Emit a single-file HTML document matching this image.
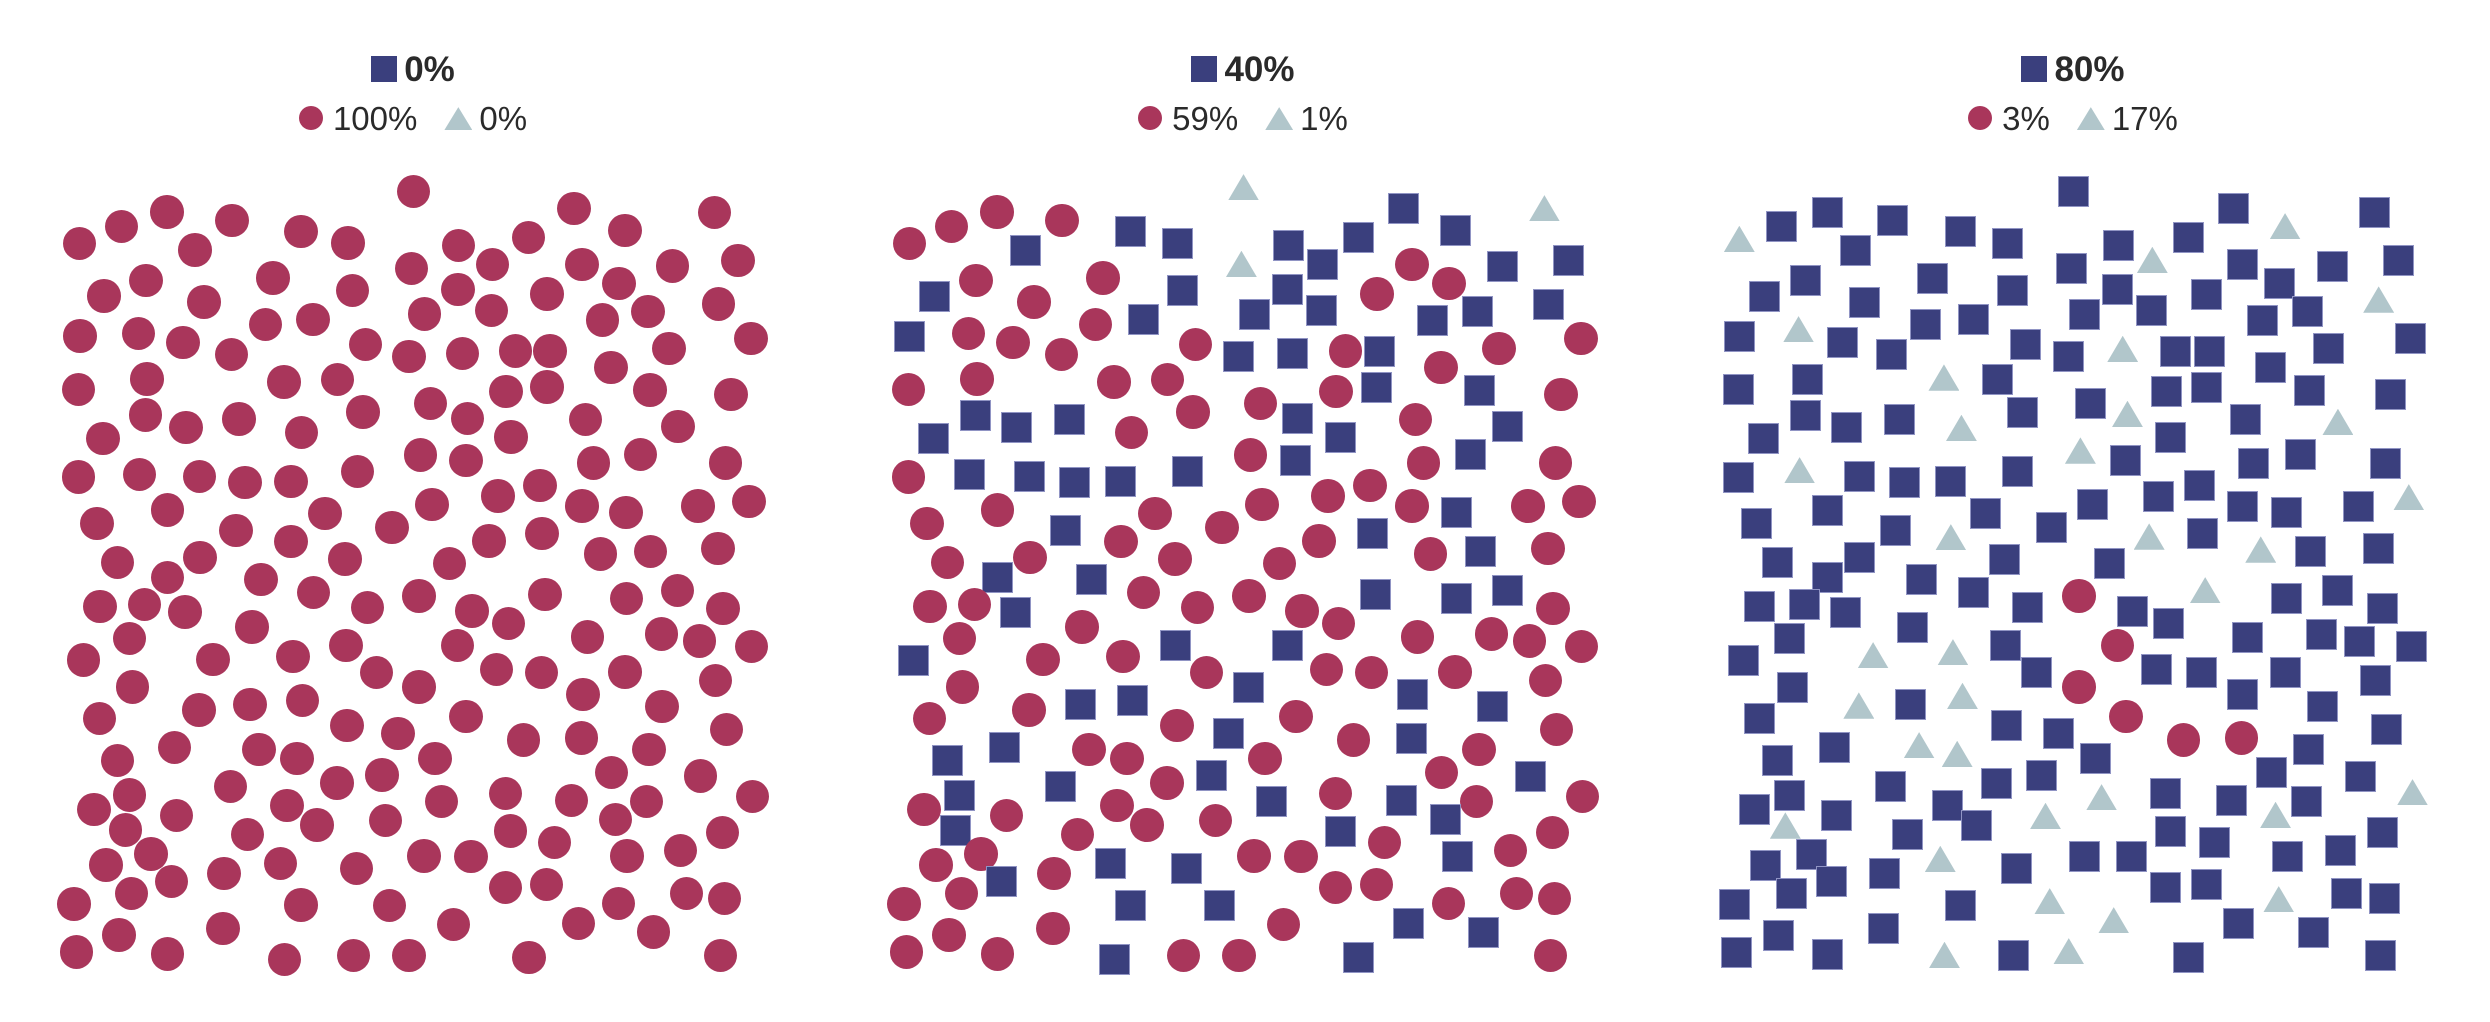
<!DOCTYPE html>
<html><head><meta charset="utf-8">
<style>
html,body{margin:0;padding:0;background:#fff;}
body{width:2490px;height:1022px;position:relative;overflow:hidden;font-family:"Liberation Sans",sans-serif;color:#2a2a2a;}
.p{position:absolute;top:0;width:830px;height:1022px;}
.m{position:absolute;display:block;left:calc(var(--x) * 1px / 1.891);top:calc(var(--y) * 1px / 3);}
.c{width:33.5px;height:33.5px;margin:-16.75px 0 0 -16.75px;border-radius:50%;background:#a9365b;}
.s{width:31px;height:31px;margin:-15.5px 0 0 -15.5px;background:#3a3f7d;border:1px solid #9094c4;box-sizing:border-box;}
.t{width:31px;height:26.4px;margin:-17.6px 0 0 -15.5px;background:#b1c6cb;clip-path:polygon(50% 0,100% 100%,0 100%);}
.h1{position:absolute;left:0;width:826px;top:52.4px;display:flex;justify-content:center;align-items:flex-start;font-weight:bold;font-size:35px;line-height:35px;}
.h1 .sq{width:26px;height:26px;background:#3a3f7d;margin-top:3.6px;margin-right:7px;}
.h2{position:absolute;left:0;width:826px;top:102.1px;display:flex;justify-content:center;align-items:flex-start;font-size:33px;line-height:33px;}
.h2 .ci{width:24px;height:24px;border-radius:50%;background:#a9365b;margin-top:4px;margin-right:10px;}
.h2 .tr{width:28px;height:23px;background:#b1c6cb;clip-path:polygon(50% 0,100% 100%,0 100%);margin-top:5px;margin-left:27px;margin-right:7px;}
</style></head>
<body>
<div class="p" style="left:0">
<div class="h1"><span class="sq"></span><span>0%</span></div>
<div class="h2"><span class="ci"></span><span>100%</span><span class="tr"></span><span>0%</span></div>
<i class="m c" style="--x:782;--y:575"></i><i class="m c" style="--x:150;--y:730"></i><i class="m c" style="--x:230;--y:679"></i><i class="m c" style="--x:316;--y:636"></i><i class="m c" style="--x:369;--y:750"></i><i class="m c" style="--x:439;--y:662"></i><i class="m c" style="--x:569;--y:695"></i><i class="m c" style="--x:658;--y:729"></i><i class="m c" style="--x:867;--y:736"></i><i class="m c" style="--x:999;--y:712"></i>
<i class="m c" style="--x:1085;--y:625"></i><i class="m c" style="--x:1182;--y:692"></i><i class="m c" style="--x:1351;--y:638"></i><i class="m c" style="--x:778;--y:805"></i><i class="m c" style="--x:931;--y:793"></i><i class="m c" style="--x:1101;--y:793"></i><i class="m c" style="--x:1272;--y:798"></i><i class="m c" style="--x:1396;--y:782"></i><i class="m c" style="--x:197;--y:888"></i><i class="m c" style="--x:276;--y:841"></i>
<i class="m c" style="--x:386;--y:906"></i><i class="m c" style="--x:516;--y:834"></i><i class="m c" style="--x:667;--y:872"></i><i class="m c" style="--x:866;--y:869"></i><i class="m c" style="--x:1034;--y:882"></i><i class="m c" style="--x:1171;--y:851"></i><i class="m c" style="--x:803;--y:942"></i><i class="m c" style="--x:929;--y:931"></i><i class="m c" style="--x:1139;--y:960"></i><i class="m c" style="--x:1225;--y:935"></i>
<i class="m c" style="--x:1359;--y:912"></i><i class="m c" style="--x:151;--y:1008"></i><i class="m c" style="--x:262;--y:1001"></i><i class="m c" style="--x:346;--y:1027"></i><i class="m c" style="--x:438;--y:1063"></i><i class="m c" style="--x:502;--y:973"></i><i class="m c" style="--x:592;--y:958"></i><i class="m c" style="--x:691;--y:1034"></i><i class="m c" style="--x:773;--y:1070"></i><i class="m c" style="--x:875;--y:1060"></i>
<i class="m c" style="--x:975;--y:1053"></i><i class="m c" style="--x:1040;--y:1053"></i><i class="m c" style="--x:1265;--y:1046"></i><i class="m c" style="--x:1420;--y:1015"></i><i class="m c" style="--x:1155;--y:1103"></i><i class="m c" style="--x:148;--y:1169"></i><i class="m c" style="--x:278;--y:1137"></i><i class="m c" style="--x:537;--y:1146"></i><i class="m c" style="--x:638;--y:1138"></i><i class="m c" style="--x:957;--y:1174"></i>
<i class="m c" style="--x:1034;--y:1161"></i><i class="m c" style="--x:1229;--y:1170"></i><i class="m c" style="--x:1382;--y:1184"></i><i class="m c" style="--x:814;--y:1210"></i><i class="m c" style="--x:275;--y:1245"></i><i class="m c" style="--x:352;--y:1282"></i><i class="m c" style="--x:452;--y:1257"></i><i class="m c" style="--x:686;--y:1236"></i><i class="m c" style="--x:884;--y:1255"></i><i class="m c" style="--x:966;--y:1311"></i>
<i class="m c" style="--x:1107;--y:1258"></i><i class="m c" style="--x:1282;--y:1279"></i><i class="m c" style="--x:195;--y:1316"></i><i class="m c" style="--x:570;--y:1297"></i><i class="m c" style="--x:795;--y:1365"></i><i class="m c" style="--x:881;--y:1381"></i><i class="m c" style="--x:1122;--y:1389"></i><i class="m c" style="--x:1211;--y:1364"></i><i class="m c" style="--x:1372;--y:1389"></i><i class="m c" style="--x:148;--y:1431"></i>
<i class="m c" style="--x:264;--y:1424"></i><i class="m c" style="--x:377;--y:1430"></i><i class="m c" style="--x:463;--y:1448"></i><i class="m c" style="--x:550;--y:1445"></i><i class="m c" style="--x:676;--y:1414"></i><i class="m c" style="--x:942;--y:1488"></i><i class="m c" style="--x:1021;--y:1456"></i><i class="m c" style="--x:183;--y:1571"></i><i class="m c" style="--x:317;--y:1530"></i><i class="m c" style="--x:615;--y:1540"></i>
<i class="m c" style="--x:817;--y:1513"></i><i class="m c" style="--x:1101;--y:1518"></i><i class="m c" style="--x:1184;--y:1538"></i><i class="m c" style="--x:1320;--y:1518"></i><i class="m c" style="--x:1416;--y:1505"></i><i class="m c" style="--x:446;--y:1591"></i><i class="m c" style="--x:550;--y:1625"></i><i class="m c" style="--x:741;--y:1583"></i><i class="m c" style="--x:925;--y:1623"></i><i class="m c" style="--x:1025;--y:1600"></i>
<i class="m c" style="--x:1136;--y:1662"></i><i class="m c" style="--x:1230;--y:1654"></i><i class="m c" style="--x:1358;--y:1645"></i><i class="m c" style="--x:222;--y:1688"></i><i class="m c" style="--x:378;--y:1672"></i><i class="m c" style="--x:652;--y:1677"></i><i class="m c" style="--x:850;--y:1691"></i><i class="m c" style="--x:317;--y:1732"></i><i class="m c" style="--x:494;--y:1738"></i><i class="m c" style="--x:593;--y:1778"></i>
<i class="m c" style="--x:792;--y:1788"></i><i class="m c" style="--x:1031;--y:1784"></i><i class="m c" style="--x:1185;--y:1796"></i><i class="m c" style="--x:1281;--y:1772"></i><i class="m c" style="--x:1367;--y:1826"></i><i class="m c" style="--x:189;--y:1819"></i><i class="m c" style="--x:273;--y:1814"></i><i class="m c" style="--x:350;--y:1836"></i><i class="m c" style="--x:695;--y:1823"></i><i class="m c" style="--x:893;--y:1833"></i>
<i class="m c" style="--x:962;--y:1871"></i><i class="m c" style="--x:1111;--y:1911"></i><i class="m c" style="--x:1251;--y:1902"></i><i class="m c" style="--x:1323;--y:1923"></i><i class="m c" style="--x:1421;--y:1940"></i><i class="m c" style="--x:245;--y:1916"></i><i class="m c" style="--x:477;--y:1881"></i><i class="m c" style="--x:654;--y:1936"></i><i class="m c" style="--x:865;--y:1936"></i><i class="m c" style="--x:158;--y:1980"></i>
<i class="m c" style="--x:403;--y:1979"></i><i class="m c" style="--x:554;--y:1970"></i><i class="m c" style="--x:712;--y:2017"></i><i class="m c" style="--x:792;--y:2061"></i><i class="m c" style="--x:939;--y:2008"></i><i class="m c" style="--x:1024;--y:2018"></i><i class="m c" style="--x:1182;--y:2016"></i><i class="m c" style="--x:1353;--y:2042"></i><i class="m c" style="--x:1102;--y:2083"></i><i class="m c" style="--x:251;--y:2061"></i>
<i class="m c" style="--x:188;--y:2156"></i><i class="m c" style="--x:376;--y:2130"></i><i class="m c" style="--x:473;--y:2113"></i><i class="m c" style="--x:572;--y:2101"></i><i class="m c" style="--x:656;--y:2177"></i><i class="m c" style="--x:753;--y:2201"></i><i class="m c" style="--x:881;--y:2150"></i><i class="m c" style="--x:990;--y:2220"></i><i class="m c" style="--x:1100;--y:2214"></i><i class="m c" style="--x:1252;--y:2119"></i>
<i class="m c" style="--x:1374;--y:2188"></i><i class="m c" style="--x:222;--y:2282"></i><i class="m c" style="--x:330;--y:2243"></i><i class="m c" style="--x:490;--y:2249"></i><i class="m c" style="--x:562;--y:2275"></i><i class="m c" style="--x:823;--y:2275"></i><i class="m c" style="--x:1227;--y:2249"></i><i class="m c" style="--x:1156;--y:2317"></i><i class="m c" style="--x:1325;--y:2328"></i><i class="m c" style="--x:245;--y:2385"></i>
<i class="m c" style="--x:178;--y:2429"></i><i class="m c" style="--x:334;--y:2446"></i><i class="m c" style="--x:436;--y:2360"></i><i class="m c" style="--x:543;--y:2417"></i><i class="m c" style="--x:637;--y:2349"></i><i class="m c" style="--x:722;--y:2325"></i><i class="m c" style="--x:835;--y:2405"></i><i class="m c" style="--x:956;--y:2380"></i><i class="m c" style="--x:1081;--y:2401"></i><i class="m c" style="--x:1223;--y:2405"></i>
<i class="m c" style="--x:1164;--y:2458"></i><i class="m c" style="--x:1423;--y:2390"></i><i class="m c" style="--x:237;--y:2490"></i><i class="m c" style="--x:468;--y:2503"></i><i class="m c" style="--x:599;--y:2475"></i><i class="m c" style="--x:729;--y:2461"></i><i class="m c" style="--x:965;--y:2493"></i><i class="m c" style="--x:1049;--y:2528"></i><i class="m c" style="--x:1366;--y:2498"></i><i class="m c" style="--x:286;--y:2562"></i>
<i class="m c" style="--x:200;--y:2595"></i><i class="m c" style="--x:324;--y:2645"></i><i class="m c" style="--x:424;--y:2621"></i><i class="m c" style="--x:530;--y:2590"></i><i class="m c" style="--x:674;--y:2606"></i><i class="m c" style="--x:802;--y:2568"></i><i class="m c" style="--x:891;--y:2570"></i><i class="m c" style="--x:1186;--y:2568"></i><i class="m c" style="--x:1287;--y:2552"></i><i class="m c" style="--x:249;--y:2681"></i>
<i class="m c" style="--x:140;--y:2712"></i><i class="m c" style="--x:569;--y:2715"></i><i class="m c" style="--x:737;--y:2717"></i><i class="m c" style="--x:956;--y:2662"></i><i class="m c" style="--x:1033;--y:2653"></i><i class="m c" style="--x:1170;--y:2711"></i><i class="m c" style="--x:1298;--y:2681"></i><i class="m c" style="--x:1370;--y:2696"></i><i class="m c" style="--x:225;--y:2805"></i><i class="m c" style="--x:422;--y:2785"></i>
<i class="m c" style="--x:858;--y:2774"></i><i class="m c" style="--x:1094;--y:2770"></i><i class="m c" style="--x:1236;--y:2796"></i><i class="m c" style="--x:145;--y:2856"></i><i class="m c" style="--x:317;--y:2862"></i><i class="m c" style="--x:538;--y:2878"></i><i class="m c" style="--x:668;--y:2866"></i><i class="m c" style="--x:773;--y:2867"></i><i class="m c" style="--x:1000;--y:2873"></i><i class="m c" style="--x:1362;--y:2866"></i>
</div>

<div class="p" style="left:830px">
<div class="h1"><span class="sq"></span><span>40%</span></div>
<div class="h2"><span class="ci"></span><span>59%</span><span class="tr"></span><span>1%</span></div>
<i class="m t" style="--x:782;--y:575"></i><i class="m c" style="--x:150;--y:730"></i><i class="m c" style="--x:230;--y:679"></i><i class="m c" style="--x:316;--y:636"></i><i class="m s" style="--x:369;--y:750"></i><i class="m c" style="--x:439;--y:662"></i><i class="m s" style="--x:569;--y:695"></i><i class="m s" style="--x:658;--y:729"></i><i class="m s" style="--x:867;--y:736"></i><i class="m s" style="--x:999;--y:712"></i>
<i class="m s" style="--x:1085;--y:625"></i><i class="m s" style="--x:1182;--y:692"></i><i class="m t" style="--x:1351;--y:638"></i><i class="m t" style="--x:778;--y:805"></i><i class="m s" style="--x:931;--y:793"></i><i class="m c" style="--x:1101;--y:793"></i><i class="m s" style="--x:1272;--y:798"></i><i class="m s" style="--x:1396;--y:782"></i><i class="m s" style="--x:197;--y:888"></i><i class="m c" style="--x:276;--y:841"></i>
<i class="m c" style="--x:386;--y:906"></i><i class="m c" style="--x:516;--y:834"></i><i class="m s" style="--x:667;--y:872"></i><i class="m s" style="--x:866;--y:869"></i><i class="m c" style="--x:1034;--y:882"></i><i class="m c" style="--x:1171;--y:851"></i><i class="m s" style="--x:803;--y:942"></i><i class="m s" style="--x:929;--y:931"></i><i class="m s" style="--x:1139;--y:960"></i><i class="m s" style="--x:1225;--y:935"></i>
<i class="m s" style="--x:1359;--y:912"></i><i class="m s" style="--x:151;--y:1008"></i><i class="m c" style="--x:262;--y:1001"></i><i class="m c" style="--x:346;--y:1027"></i><i class="m c" style="--x:438;--y:1063"></i><i class="m c" style="--x:502;--y:973"></i><i class="m s" style="--x:592;--y:958"></i><i class="m c" style="--x:691;--y:1034"></i><i class="m s" style="--x:773;--y:1070"></i><i class="m s" style="--x:875;--y:1060"></i>
<i class="m c" style="--x:975;--y:1053"></i><i class="m s" style="--x:1040;--y:1053"></i><i class="m c" style="--x:1265;--y:1046"></i><i class="m c" style="--x:1420;--y:1015"></i><i class="m c" style="--x:1155;--y:1103"></i><i class="m c" style="--x:148;--y:1169"></i><i class="m c" style="--x:278;--y:1137"></i><i class="m c" style="--x:537;--y:1146"></i><i class="m c" style="--x:638;--y:1138"></i><i class="m c" style="--x:957;--y:1174"></i>
<i class="m s" style="--x:1034;--y:1161"></i><i class="m s" style="--x:1229;--y:1170"></i><i class="m c" style="--x:1382;--y:1184"></i><i class="m c" style="--x:814;--y:1210"></i><i class="m s" style="--x:275;--y:1245"></i><i class="m s" style="--x:352;--y:1282"></i><i class="m s" style="--x:452;--y:1257"></i><i class="m c" style="--x:686;--y:1236"></i><i class="m s" style="--x:884;--y:1255"></i><i class="m s" style="--x:966;--y:1311"></i>
<i class="m c" style="--x:1107;--y:1258"></i><i class="m s" style="--x:1282;--y:1279"></i><i class="m s" style="--x:195;--y:1316"></i><i class="m c" style="--x:570;--y:1297"></i><i class="m c" style="--x:795;--y:1365"></i><i class="m s" style="--x:881;--y:1381"></i><i class="m c" style="--x:1122;--y:1389"></i><i class="m s" style="--x:1211;--y:1364"></i><i class="m c" style="--x:1372;--y:1389"></i><i class="m c" style="--x:148;--y:1431"></i>
<i class="m s" style="--x:264;--y:1424"></i><i class="m s" style="--x:377;--y:1430"></i><i class="m s" style="--x:463;--y:1448"></i><i class="m s" style="--x:550;--y:1445"></i><i class="m s" style="--x:676;--y:1414"></i><i class="m c" style="--x:942;--y:1488"></i><i class="m c" style="--x:1021;--y:1456"></i><i class="m c" style="--x:183;--y:1571"></i><i class="m c" style="--x:317;--y:1530"></i><i class="m c" style="--x:615;--y:1540"></i>
<i class="m c" style="--x:817;--y:1513"></i><i class="m c" style="--x:1101;--y:1518"></i><i class="m s" style="--x:1184;--y:1538"></i><i class="m c" style="--x:1320;--y:1518"></i><i class="m c" style="--x:1416;--y:1505"></i><i class="m s" style="--x:446;--y:1591"></i><i class="m c" style="--x:550;--y:1625"></i><i class="m c" style="--x:741;--y:1583"></i><i class="m c" style="--x:925;--y:1623"></i><i class="m s" style="--x:1025;--y:1600"></i>
<i class="m c" style="--x:1136;--y:1662"></i><i class="m s" style="--x:1230;--y:1654"></i><i class="m c" style="--x:1358;--y:1645"></i><i class="m c" style="--x:222;--y:1688"></i><i class="m c" style="--x:378;--y:1672"></i><i class="m c" style="--x:652;--y:1677"></i><i class="m c" style="--x:850;--y:1691"></i><i class="m s" style="--x:317;--y:1732"></i><i class="m s" style="--x:494;--y:1738"></i><i class="m c" style="--x:593;--y:1778"></i>
<i class="m c" style="--x:792;--y:1788"></i><i class="m s" style="--x:1031;--y:1784"></i><i class="m s" style="--x:1185;--y:1796"></i><i class="m s" style="--x:1281;--y:1772"></i><i class="m c" style="--x:1367;--y:1826"></i><i class="m c" style="--x:189;--y:1819"></i><i class="m c" style="--x:273;--y:1814"></i><i class="m s" style="--x:350;--y:1836"></i><i class="m c" style="--x:695;--y:1823"></i><i class="m c" style="--x:893;--y:1833"></i>
<i class="m c" style="--x:962;--y:1871"></i><i class="m c" style="--x:1111;--y:1911"></i><i class="m c" style="--x:1251;--y:1902"></i><i class="m c" style="--x:1323;--y:1923"></i><i class="m c" style="--x:1421;--y:1940"></i><i class="m c" style="--x:245;--y:1916"></i><i class="m c" style="--x:477;--y:1881"></i><i class="m s" style="--x:654;--y:1936"></i><i class="m s" style="--x:865;--y:1936"></i><i class="m s" style="--x:158;--y:1980"></i>
<i class="m c" style="--x:403;--y:1979"></i><i class="m c" style="--x:554;--y:1970"></i><i class="m c" style="--x:712;--y:2017"></i><i class="m s" style="--x:792;--y:2061"></i><i class="m c" style="--x:939;--y:2008"></i><i class="m c" style="--x:1024;--y:2018"></i><i class="m c" style="--x:1182;--y:2016"></i><i class="m c" style="--x:1353;--y:2042"></i><i class="m s" style="--x:1102;--y:2083"></i><i class="m c" style="--x:251;--y:2061"></i>
<i class="m c" style="--x:188;--y:2156"></i><i class="m c" style="--x:376;--y:2130"></i><i class="m s" style="--x:473;--y:2113"></i><i class="m s" style="--x:572;--y:2101"></i><i class="m c" style="--x:656;--y:2177"></i><i class="m s" style="--x:753;--y:2201"></i><i class="m c" style="--x:881;--y:2150"></i><i class="m c" style="--x:990;--y:2220"></i><i class="m s" style="--x:1100;--y:2214"></i><i class="m s" style="--x:1252;--y:2119"></i>
<i class="m c" style="--x:1374;--y:2188"></i><i class="m s" style="--x:222;--y:2282"></i><i class="m s" style="--x:330;--y:2243"></i><i class="m c" style="--x:490;--y:2249"></i><i class="m c" style="--x:562;--y:2275"></i><i class="m c" style="--x:823;--y:2275"></i><i class="m c" style="--x:1227;--y:2249"></i><i class="m c" style="--x:1156;--y:2317"></i><i class="m s" style="--x:1325;--y:2328"></i><i class="m s" style="--x:245;--y:2385"></i>
<i class="m c" style="--x:178;--y:2429"></i><i class="m c" style="--x:334;--y:2446"></i><i class="m s" style="--x:436;--y:2360"></i><i class="m c" style="--x:543;--y:2417"></i><i class="m c" style="--x:637;--y:2349"></i><i class="m s" style="--x:722;--y:2325"></i><i class="m s" style="--x:835;--y:2405"></i><i class="m c" style="--x:956;--y:2380"></i><i class="m s" style="--x:1081;--y:2401"></i><i class="m c" style="--x:1223;--y:2405"></i>
<i class="m s" style="--x:1164;--y:2458"></i><i class="m c" style="--x:1423;--y:2390"></i><i class="m s" style="--x:237;--y:2490"></i><i class="m c" style="--x:468;--y:2503"></i><i class="m c" style="--x:599;--y:2475"></i><i class="m c" style="--x:729;--y:2461"></i><i class="m s" style="--x:965;--y:2493"></i><i class="m c" style="--x:1049;--y:2528"></i><i class="m c" style="--x:1366;--y:2498"></i><i class="m c" style="--x:286;--y:2562"></i>
<i class="m c" style="--x:200;--y:2595"></i><i class="m s" style="--x:324;--y:2645"></i><i class="m c" style="--x:424;--y:2621"></i><i class="m s" style="--x:530;--y:2590"></i><i class="m s" style="--x:674;--y:2606"></i><i class="m c" style="--x:802;--y:2568"></i><i class="m c" style="--x:891;--y:2570"></i><i class="m s" style="--x:1186;--y:2568"></i><i class="m c" style="--x:1287;--y:2552"></i><i class="m c" style="--x:249;--y:2681"></i>
<i class="m c" style="--x:140;--y:2712"></i><i class="m s" style="--x:569;--y:2715"></i><i class="m s" style="--x:737;--y:2717"></i><i class="m c" style="--x:956;--y:2662"></i><i class="m c" style="--x:1033;--y:2653"></i><i class="m c" style="--x:1170;--y:2711"></i><i class="m c" style="--x:1298;--y:2681"></i><i class="m c" style="--x:1370;--y:2696"></i><i class="m c" style="--x:225;--y:2805"></i><i class="m c" style="--x:422;--y:2785"></i>
<i class="m c" style="--x:858;--y:2774"></i><i class="m s" style="--x:1094;--y:2770"></i><i class="m s" style="--x:1236;--y:2796"></i><i class="m c" style="--x:145;--y:2856"></i><i class="m c" style="--x:317;--y:2862"></i><i class="m s" style="--x:538;--y:2878"></i><i class="m c" style="--x:668;--y:2866"></i><i class="m c" style="--x:773;--y:2867"></i><i class="m s" style="--x:1000;--y:2873"></i><i class="m c" style="--x:1362;--y:2866"></i>
</div>

<div class="p" style="left:1660px">
<div class="h1"><span class="sq"></span><span>80%</span></div>
<div class="h2"><span class="ci"></span><span>3%</span><span class="tr"></span><span>17%</span></div>
<i class="m s" style="--x:782;--y:575"></i><i class="m t" style="--x:150;--y:730"></i><i class="m s" style="--x:230;--y:679"></i><i class="m s" style="--x:316;--y:636"></i><i class="m s" style="--x:369;--y:750"></i><i class="m s" style="--x:439;--y:662"></i><i class="m s" style="--x:569;--y:695"></i><i class="m s" style="--x:658;--y:729"></i><i class="m s" style="--x:867;--y:736"></i><i class="m s" style="--x:999;--y:712"></i>
<i class="m s" style="--x:1085;--y:625"></i><i class="m t" style="--x:1182;--y:692"></i><i class="m s" style="--x:1351;--y:638"></i><i class="m s" style="--x:778;--y:805"></i><i class="m t" style="--x:931;--y:793"></i><i class="m s" style="--x:1101;--y:793"></i><i class="m s" style="--x:1272;--y:798"></i><i class="m s" style="--x:1396;--y:782"></i><i class="m s" style="--x:197;--y:888"></i><i class="m s" style="--x:276;--y:841"></i>
<i class="m s" style="--x:386;--y:906"></i><i class="m s" style="--x:516;--y:834"></i><i class="m s" style="--x:667;--y:872"></i><i class="m s" style="--x:866;--y:869"></i><i class="m s" style="--x:1034;--y:882"></i><i class="m s" style="--x:1171;--y:851"></i><i class="m s" style="--x:803;--y:942"></i><i class="m s" style="--x:929;--y:931"></i><i class="m s" style="--x:1139;--y:960"></i><i class="m s" style="--x:1225;--y:935"></i>
<i class="m t" style="--x:1359;--y:912"></i><i class="m s" style="--x:151;--y:1008"></i><i class="m t" style="--x:262;--y:1001"></i><i class="m s" style="--x:346;--y:1027"></i><i class="m s" style="--x:438;--y:1063"></i><i class="m s" style="--x:502;--y:973"></i><i class="m s" style="--x:592;--y:958"></i><i class="m s" style="--x:691;--y:1034"></i><i class="m s" style="--x:773;--y:1070"></i><i class="m t" style="--x:875;--y:1060"></i>
<i class="m s" style="--x:975;--y:1053"></i><i class="m s" style="--x:1040;--y:1053"></i><i class="m s" style="--x:1265;--y:1046"></i><i class="m s" style="--x:1420;--y:1015"></i><i class="m s" style="--x:1155;--y:1103"></i><i class="m s" style="--x:148;--y:1169"></i><i class="m s" style="--x:278;--y:1137"></i><i class="m t" style="--x:537;--y:1146"></i><i class="m s" style="--x:638;--y:1138"></i><i class="m s" style="--x:957;--y:1174"></i>
<i class="m s" style="--x:1034;--y:1161"></i><i class="m s" style="--x:1229;--y:1170"></i><i class="m s" style="--x:1382;--y:1184"></i><i class="m s" style="--x:814;--y:1210"></i><i class="m s" style="--x:275;--y:1245"></i><i class="m s" style="--x:352;--y:1282"></i><i class="m s" style="--x:452;--y:1257"></i><i class="m s" style="--x:686;--y:1236"></i><i class="m t" style="--x:884;--y:1255"></i><i class="m s" style="--x:966;--y:1311"></i>
<i class="m s" style="--x:1107;--y:1258"></i><i class="m t" style="--x:1282;--y:1279"></i><i class="m s" style="--x:195;--y:1316"></i><i class="m t" style="--x:570;--y:1297"></i><i class="m t" style="--x:795;--y:1365"></i><i class="m s" style="--x:881;--y:1381"></i><i class="m s" style="--x:1122;--y:1389"></i><i class="m s" style="--x:1211;--y:1364"></i><i class="m s" style="--x:1372;--y:1389"></i><i class="m s" style="--x:148;--y:1431"></i>
<i class="m t" style="--x:264;--y:1424"></i><i class="m s" style="--x:377;--y:1430"></i><i class="m s" style="--x:463;--y:1448"></i><i class="m s" style="--x:550;--y:1445"></i><i class="m s" style="--x:676;--y:1414"></i><i class="m s" style="--x:942;--y:1488"></i><i class="m s" style="--x:1021;--y:1456"></i><i class="m s" style="--x:183;--y:1571"></i><i class="m s" style="--x:317;--y:1530"></i><i class="m s" style="--x:615;--y:1540"></i>
<i class="m s" style="--x:817;--y:1513"></i><i class="m s" style="--x:1101;--y:1518"></i><i class="m s" style="--x:1184;--y:1538"></i><i class="m s" style="--x:1320;--y:1518"></i><i class="m t" style="--x:1416;--y:1505"></i><i class="m s" style="--x:446;--y:1591"></i><i class="m t" style="--x:550;--y:1625"></i><i class="m s" style="--x:741;--y:1583"></i><i class="m t" style="--x:925;--y:1623"></i><i class="m s" style="--x:1025;--y:1600"></i>
<i class="m t" style="--x:1136;--y:1662"></i><i class="m s" style="--x:1230;--y:1654"></i><i class="m s" style="--x:1358;--y:1645"></i><i class="m s" style="--x:222;--y:1688"></i><i class="m s" style="--x:378;--y:1672"></i><i class="m s" style="--x:652;--y:1677"></i><i class="m s" style="--x:850;--y:1691"></i><i class="m s" style="--x:317;--y:1732"></i><i class="m s" style="--x:494;--y:1738"></i><i class="m s" style="--x:593;--y:1778"></i>
<i class="m c" style="--x:792;--y:1788"></i><i class="m t" style="--x:1031;--y:1784"></i><i class="m s" style="--x:1185;--y:1796"></i><i class="m s" style="--x:1281;--y:1772"></i><i class="m s" style="--x:1367;--y:1826"></i><i class="m s" style="--x:189;--y:1819"></i><i class="m s" style="--x:273;--y:1814"></i><i class="m s" style="--x:350;--y:1836"></i><i class="m s" style="--x:695;--y:1823"></i><i class="m s" style="--x:893;--y:1833"></i>
<i class="m s" style="--x:962;--y:1871"></i><i class="m s" style="--x:1111;--y:1911"></i><i class="m s" style="--x:1251;--y:1902"></i><i class="m s" style="--x:1323;--y:1923"></i><i class="m s" style="--x:1421;--y:1940"></i><i class="m s" style="--x:245;--y:1916"></i><i class="m s" style="--x:477;--y:1881"></i><i class="m s" style="--x:654;--y:1936"></i><i class="m c" style="--x:865;--y:1936"></i><i class="m s" style="--x:158;--y:1980"></i>
<i class="m t" style="--x:403;--y:1979"></i><i class="m t" style="--x:554;--y:1970"></i><i class="m s" style="--x:712;--y:2017"></i><i class="m c" style="--x:792;--y:2061"></i><i class="m s" style="--x:939;--y:2008"></i><i class="m s" style="--x:1024;--y:2018"></i><i class="m s" style="--x:1182;--y:2016"></i><i class="m s" style="--x:1353;--y:2042"></i><i class="m s" style="--x:1102;--y:2083"></i><i class="m s" style="--x:251;--y:2061"></i>
<i class="m s" style="--x:188;--y:2156"></i><i class="m t" style="--x:376;--y:2130"></i><i class="m s" style="--x:473;--y:2113"></i><i class="m t" style="--x:572;--y:2101"></i><i class="m s" style="--x:656;--y:2177"></i><i class="m s" style="--x:753;--y:2201"></i><i class="m c" style="--x:881;--y:2150"></i><i class="m c" style="--x:990;--y:2220"></i><i class="m c" style="--x:1100;--y:2214"></i><i class="m s" style="--x:1252;--y:2119"></i>
<i class="m s" style="--x:1374;--y:2188"></i><i class="m s" style="--x:222;--y:2282"></i><i class="m s" style="--x:330;--y:2243"></i><i class="m t" style="--x:490;--y:2249"></i><i class="m t" style="--x:562;--y:2275"></i><i class="m s" style="--x:823;--y:2275"></i><i class="m s" style="--x:1227;--y:2249"></i><i class="m s" style="--x:1156;--y:2317"></i><i class="m s" style="--x:1325;--y:2328"></i><i class="m s" style="--x:245;--y:2385"></i>
<i class="m s" style="--x:178;--y:2429"></i><i class="m s" style="--x:334;--y:2446"></i><i class="m s" style="--x:436;--y:2360"></i><i class="m s" style="--x:543;--y:2417"></i><i class="m s" style="--x:637;--y:2349"></i><i class="m s" style="--x:722;--y:2325"></i><i class="m t" style="--x:835;--y:2405"></i><i class="m s" style="--x:956;--y:2380"></i><i class="m s" style="--x:1081;--y:2401"></i><i class="m s" style="--x:1223;--y:2405"></i>
<i class="m t" style="--x:1164;--y:2458"></i><i class="m t" style="--x:1423;--y:2390"></i><i class="m t" style="--x:237;--y:2490"></i><i class="m s" style="--x:468;--y:2503"></i><i class="m s" style="--x:599;--y:2475"></i><i class="m t" style="--x:729;--y:2461"></i><i class="m s" style="--x:965;--y:2493"></i><i class="m s" style="--x:1049;--y:2528"></i><i class="m s" style="--x:1366;--y:2498"></i><i class="m s" style="--x:286;--y:2562"></i>
<i class="m s" style="--x:200;--y:2595"></i><i class="m s" style="--x:324;--y:2645"></i><i class="m s" style="--x:424;--y:2621"></i><i class="m t" style="--x:530;--y:2590"></i><i class="m s" style="--x:674;--y:2606"></i><i class="m s" style="--x:802;--y:2568"></i><i class="m s" style="--x:891;--y:2570"></i><i class="m s" style="--x:1186;--y:2568"></i><i class="m s" style="--x:1287;--y:2552"></i><i class="m s" style="--x:249;--y:2681"></i>
<i class="m s" style="--x:140;--y:2712"></i><i class="m s" style="--x:569;--y:2715"></i><i class="m t" style="--x:737;--y:2717"></i><i class="m s" style="--x:956;--y:2662"></i><i class="m s" style="--x:1033;--y:2653"></i><i class="m t" style="--x:1170;--y:2711"></i><i class="m s" style="--x:1298;--y:2681"></i><i class="m s" style="--x:1370;--y:2696"></i><i class="m s" style="--x:225;--y:2805"></i><i class="m s" style="--x:422;--y:2785"></i>
<i class="m t" style="--x:858;--y:2774"></i><i class="m s" style="--x:1094;--y:2770"></i><i class="m s" style="--x:1236;--y:2796"></i><i class="m s" style="--x:145;--y:2856"></i><i class="m s" style="--x:317;--y:2862"></i><i class="m t" style="--x:538;--y:2878"></i><i class="m s" style="--x:668;--y:2866"></i><i class="m t" style="--x:773;--y:2867"></i><i class="m s" style="--x:1000;--y:2873"></i><i class="m s" style="--x:1362;--y:2866"></i>
</div>
</body></html>
